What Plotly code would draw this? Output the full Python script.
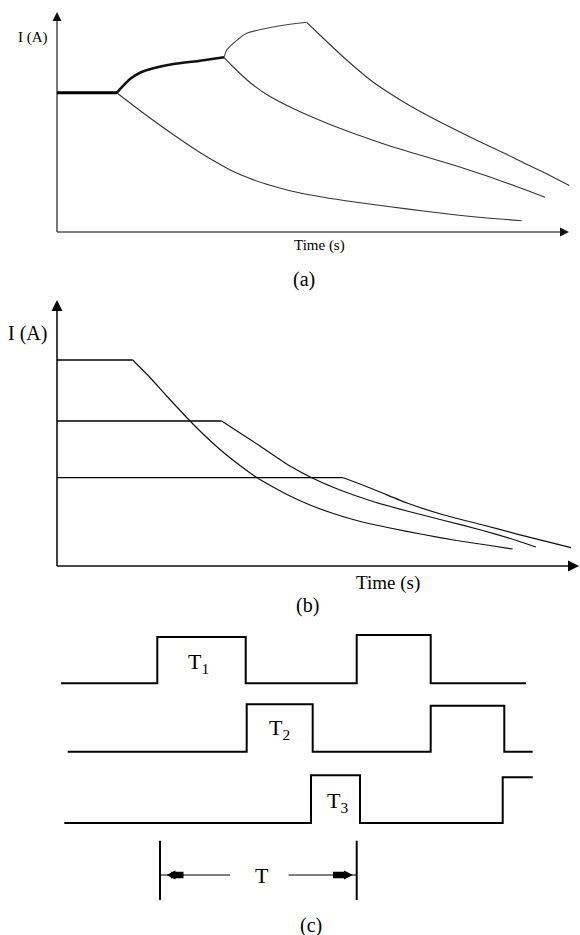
import plotly.graph_objects as go

# ---------------- Panel (a): current vs time, three staged decays ----------------
a_hold_t = [0.0, 6.0]
a_hold_i = [13.93, 13.93]
a_rise1_t = [5.97, 6.47, 7.3, 8.3, 9.63, 11.63, 14.3, 16.7]
a_rise1_i = [13.93, 14.47, 15.3, 15.93, 16.37, 16.8, 17.13, 17.47]
a_decay1_t = [5.97, 7.63, 9.3, 10.97, 12.63, 14.3, 15.97, 17.63, 19.3, 20.97, 23.3,
              26.63, 29.97, 33.3, 36.63, 39.97, 43.3, 46.47]
a_decay1_i = [13.93, 12.65, 11.4, 10.2, 9.05, 7.95, 6.95, 6.05, 5.35, 4.77, 4.13,
              3.47, 2.97, 2.53, 2.1, 1.7, 1.37, 1.13]
a_rise2_t = [16.7, 16.97, 17.63, 18.97, 20.97, 23.3, 24.97]
a_rise2_i = [17.47, 18.2, 18.87, 19.87, 20.37, 20.77, 20.97]
a_decay2_t = [16.7, 17.63, 19.3, 20.97, 23.3, 26.63, 29.97, 33.3, 36.63, 39.97, 43.3, 46.63, 48.8]
a_decay2_i = [17.47, 16.5, 14.95, 13.75, 12.5, 11.03, 9.75, 8.6, 7.6, 6.6, 5.5, 4.3, 3.47]
a_decay3_t = [24.97, 26.6, 28.3, 30.0, 31.6, 33.3, 35.0, 36.6, 38.3, 40.0, 41.6, 43.3,
              45.0, 46.6, 48.3, 51.23]
a_decay3_i = [20.97, 19.4, 17.8, 16.3, 15.0, 13.85, 12.8, 11.9, 11.0, 10.15, 9.35, 8.55,
              7.75, 6.95, 6.15, 4.65]
a_axis_tmax = 51.2
a_axis_imax = 22.0

# ---------------- Panel (b): three hold levels, each followed by a decay ----------------
b_levels = [20.6, 14.5, 8.83]
b_hold_end = [7.57, 16.47, 28.63]
b_decay_top_t = [7.57, 9.3, 10.97, 12.97, 14.3, 16.3, 18.3, 19.97, 21.97, 23.3, 25.3,
                 27.63, 29.97, 33.3, 36.63, 39.97, 43.3, 45.57]
b_decay_top_i = [20.6, 18.85, 17.0, 14.85, 13.5, 11.65, 10.05, 8.85, 7.7, 7.0, 6.1,
                 5.25, 4.55, 3.8, 3.15, 2.55, 2.05, 1.7]
b_decay_mid_t = [16.47, 18.3, 20.3, 23.3, 25.47, 28.3, 31.6, 35.0, 38.7, 42.4, 45.5, 47.9]
b_decay_mid_i = [14.5, 13.3, 12.0, 10.0, 8.83, 7.6, 6.45, 5.5, 4.55, 3.6, 2.7, 1.9]
b_decay_low_t = [28.63, 30.3, 32.3, 35.0, 38.7, 42.4, 46.1, 51.4]
b_decay_low_i = [8.83, 8.2, 7.4, 6.3, 5.1, 4.15, 3.17, 1.83]
b_axis_tmax = 52.2
b_axis_imax = 26.6

# ---------------- Panel (c): gating pulse trains ----------------
c_row1_t = [0.4, 10.03, 18.87, 29.97, 37.37, 46.9]
c_row1_v = [25.17, 29.8, 25.17, 30.0, 25.17, 25.17]
c_row2_t = [1.07, 18.97, 25.57, 37.37, 44.73, 47.57]
c_row2_v = [18.33, 23.07, 18.33, 22.93, 18.33, 18.33]
c_row3_t = [0.73, 25.4, 30.3, 44.57, 47.57]
c_row3_v = [11.2, 15.97, 11.2, 15.77, 15.77]
c_period = [10.3, 29.97]          # start / end of period T
c_period_bar = [3.5, 9.43]        # vertical extent of the period markers
c_period_y = 6.0

FONT = "Liberation Serif"
fig = go.Figure()


def line(x, y, ax, width=1.0, color="#222", shape="linear"):
    fig.add_trace(go.Scatter(x=x, y=y, mode="lines", xaxis=ax[0], yaxis=ax[1],
                             line=dict(color=color, width=width, shape=shape,
                                       smoothing=0.5 if shape == "spline" else None),
                             showlegend=False, hoverinfo="skip"))


def heads(x, y, ax, symbols, size, color):
    fig.add_trace(go.Scatter(x=x, y=y, mode="markers", xaxis=ax[0], yaxis=ax[1],
                             marker=dict(symbol=symbols, size=size, color=color,
                                         line=dict(width=0)),
                             showlegend=False, hoverinfo="skip"))


A = ("x", "y")
B = ("x2", "y2")
C = ("x3", "y3")

# panel a axes
line([0, 0], [0, a_axis_imax - 0.5], A, 1.6, "#555")
line([0, a_axis_tmax - 0.5], [0, 0], A, 1.6, "#555")
heads([0, a_axis_tmax], [a_axis_imax, 0], A, ["arrow-up", "arrow-right"], 9, "#111")
# panel a curves
line(a_decay1_t, a_decay1_i, A, 1.1, "#333", "spline")
line(a_decay2_t, a_decay2_i, A, 1.1, "#333", "spline")
line(a_rise2_t, a_rise2_i, A, 1.1, "#444", "spline")
line(a_decay3_t, a_decay3_i, A, 1.1, "#333", "spline")
line(a_hold_t, a_hold_i, A, 3.0, "#000")
line(a_rise1_t, a_rise1_i, A, 2.6, "#111", "spline")

# panel b axes
line([0, 0], [0, b_axis_imax - 0.5], B, 1.6, "#111")
line([0, b_axis_tmax - 0.5], [0, 0], B, 1.6, "#111")
heads([0, b_axis_tmax], [b_axis_imax, 0], B, ["arrow-up", "arrow-right"], 11, "#000")
for lvl, end in zip(b_levels, b_hold_end):
    line([0, end], [lvl, lvl], B, 1.3, "#000")
line(b_decay_top_t, b_decay_top_i, B, 1.2, "#111", "spline")
line(b_decay_mid_t, b_decay_mid_i, B, 1.2, "#111", "spline")
line(b_decay_low_t, b_decay_low_i, B, 1.2, "#111", "spline")

# panel c pulse trains
line(c_row1_t, c_row1_v, C, 2.0, "#000", "hv")
line(c_row2_t, c_row2_v, C, 2.0, "#000", "hv")
line(c_row3_t, c_row3_v, C, 2.0, "#000", "hv")
# period T dimension
for xb in c_period:
    line([xb, xb], c_period_bar, C, 2.0, "#000")
line([c_period[0], 17.3], [c_period_y, c_period_y], C, 1.2, "#000")
line([23.16, c_period[1]], [c_period_y, c_period_y], C, 1.2, "#000")
line([11.4, 12.65], [c_period_y, c_period_y], C, 6.5, "#000")
line([27.6, 28.9], [c_period_y, c_period_y], C, 6.5, "#000")
heads([10.95, 29.6], [c_period_y, c_period_y], C, ["arrow-left", "arrow-right"], 9, "#000")

ann = []


def text(x, y, s, size, xr, yr):
    ann.append(dict(x=x, y=y, xref=xr, yref=yr, text=s, showarrow=False,
                    font=dict(family=FONT, size=size, color="#000"),
                    xanchor="center", yanchor="middle"))


text(-2.45, 19.5, "I (A)", 15, "x", "y")
text(26.2, -1.3, "Time (s)", 15, "x", "y")
text(24.7, -4.7, "(a)", 20, "x", "y")
text(-3.0, 23.3, "I (A)", 20, "x2", "y2")
text(33.1, -1.7, "Time (s)", 19, "x2", "y2")
text(25.0, -3.9, "(b)", 20, "x2", "y2")
text(14.1, 27.2, "T<sub>1</sub>", 22, "x3", "y3")
text(22.2, 20.6, "T<sub>2</sub>", 22, "x3", "y3")
text(28.0, 13.27, "T<sub>3</sub>", 22, "x3", "y3")
text(20.5, 6.0, "T", 22, "x3", "y3")
text(25.4, 1.0, "(c)", 20, "x3", "y3")

xr = [-5.7, 52.3]
hid = dict(visible=False, fixedrange=True)
fig.update_layout(
    width=580, height=935, autosize=False,
    margin=dict(l=0, r=0, t=0, b=0, pad=0),
    paper_bgcolor="white", plot_bgcolor="white",
    annotations=ann,
    xaxis=dict(range=xr, domain=[0, 1], anchor="y", **hid),
    xaxis2=dict(range=xr, domain=[0, 1], anchor="y2", **hid),
    xaxis3=dict(range=xr, domain=[0, 1], anchor="y3", **hid),
    yaxis=dict(range=[-5.6, 23.2], domain=[1 - 288 / 935, 1], anchor="x", **hid),
    yaxis2=dict(range=[-5.0, 27.8], domain=[1 - 616 / 935, 1 - 288 / 935], anchor="x2", **hid),
    yaxis3=dict(range=[0, 31.9], domain=[0, 1 - 616 / 935], anchor="x3", **hid),
)

fig.write_html("out.html", config={"displayModeBar": False})
